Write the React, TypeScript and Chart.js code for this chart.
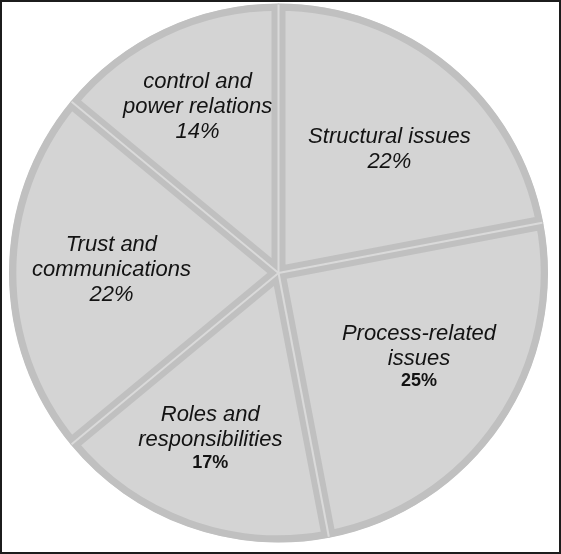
import { useEffect, useRef } from 'react'
import { Chart, registerables } from 'chart.js'

Chart.register(...registerables)

// slices, clockwise from 12 o'clock
const CATEGORIES = [
  ['Structural issues'],
  ['Process-related', 'issues'],
  ['Roles and', 'responsibilities'],
  ['Trust and', 'communications'],
  ['control and', 'power relations'],
]
const VALUES = [22, 25, 17, 22, 14]
const PCT_LABELS = ['22%', '25%', '17%', '22%', '14%']

// label block placement: fraction of radius, and a nudge (degrees) off the slice's mid-angle
const LABEL_DIST = [0.615, 0.61, 0.67, 0.62, 0.685]
const LABEL_TURN = [2.4, -2.9, 2.4, 1.2, -0.8]
const PCT_BOLD = [false, true, true, false, false]

const FONT = '"Liberation Sans", Arial, sans-serif'

// thin light seam down the middle of each slice boundary
const sliceSeams = {
  id: 'sliceSeams',
  afterDatasetsDraw(chart: Chart) {
    const ctx = chart.ctx
    const arcs = chart.getDatasetMeta(0).data as any[]
    ctx.save()
    ctx.strokeStyle = '#dadada'
    ctx.lineWidth = 2
    arcs.forEach((arc) => {
      const { x, y, startAngle, outerRadius } = arc.getProps(
        ['x', 'y', 'startAngle', 'outerRadius'],
        true
      )
      ctx.beginPath()
      ctx.moveTo(x, y)
      ctx.lineTo(x + Math.cos(startAngle) * (outerRadius - 1), y + Math.sin(startAngle) * (outerRadius - 1))
      ctx.stroke()
    })
    ctx.restore()
  },
}

const sliceLabels = {
  id: 'sliceLabels',
  afterDatasetsDraw(chart: Chart) {
    const ctx = chart.ctx
    const arcs = chart.getDatasetMeta(0).data as any[]
    ctx.save()
    ctx.textAlign = 'center'
    ctx.textBaseline = 'middle'
    ctx.fillStyle = '#131313'
    arcs.forEach((arc, i) => {
      const { x, y, startAngle, endAngle, outerRadius } = arc.getProps(
        ['x', 'y', 'startAngle', 'endAngle', 'outerRadius'],
        true
      )
      const mid = (startAngle + endAngle) / 2 + (LABEL_TURN[i] * Math.PI) / 180
      const cx = x + Math.cos(mid) * outerRadius * LABEL_DIST[i]
      const cy = y + Math.sin(mid) * outerRadius * LABEL_DIST[i]
      const lines = CATEGORIES[i]
      const lh = 25
      const total = lines.length + 1
      let ly = cy - ((total - 1) * lh) / 2
      ctx.font = `italic 22px ${FONT}`
      lines.forEach((t) => {
        ctx.fillText(t, cx, ly)
        ly += lh
      })
      ctx.font = PCT_BOLD[i] ? `bold 18px ${FONT}` : `italic 22px ${FONT}`
      ctx.fillText(PCT_LABELS[i], cx, ly - (PCT_BOLD[i] ? 2 : 0))
    })
    ctx.restore()
  },
}

export default function App() {
  const canvasRef = useRef<HTMLCanvasElement>(null)

  useEffect(() => {
    if (!canvasRef.current) return
    document.body.style.margin = '0'
    const chart = new Chart(canvasRef.current, {
      type: 'pie',
      data: {
        labels: CATEGORIES.map((c) => c.join(' ')),
        datasets: [
          {
            data: VALUES,
            backgroundColor: '#d4d4d4',
            borderColor: '#c0c0c0',
            borderWidth: 7,
            borderAlign: 'inner',
          } as any,
        ],
      },
      options: {
        animation: false,
        responsive: false,
        maintainAspectRatio: false,
        layout: { padding: { left: 7, right: 11, top: 1, bottom: 9 } },
        plugins: {
          legend: { display: false },
          tooltip: { enabled: false },
        },
      },
      plugins: [sliceSeams, sliceLabels],
    })
    return () => chart.destroy()
  }, [])

  return (
    <div
      style={{
        position: 'absolute',
        left: 0,
        top: 0,
        width: 561,
        height: 554,
        boxSizing: 'border-box',
        border: '2px solid #1c1c1c',
        background: '#fff',
      }}
    >
      <canvas
        ref={canvasRef}
        width={557}
        height={550}
        style={{ display: 'block', width: 557, height: 550 }}
      />
    </div>
  )
}
